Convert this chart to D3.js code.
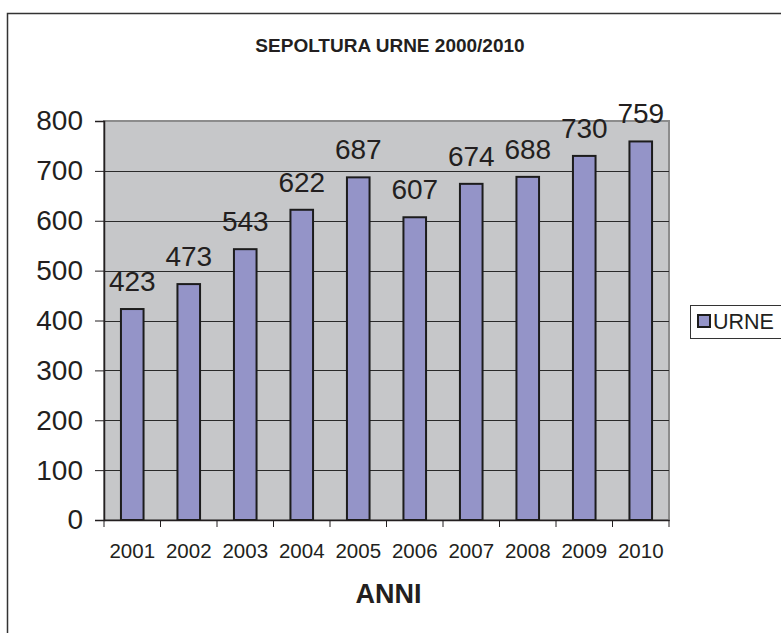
<!DOCTYPE html>
<html>
<head>
<meta charset="utf-8">
<script src="https://cdn.jsdelivr.net/npm/d3@7"></script>
<style>
  html, body { margin: 0; padding: 0; background: #fff; }
  svg { display: block; font-family: "Liberation Sans", Arial, sans-serif; }
</style>
</head>
<body>
<svg id="chart" width="781" height="633"></svg>
<script>
// Cinerary urn burials per year
const years = ["2001", "2002", "2003", "2004", "2005", "2006", "2007", "2008", "2009", "2010"];
const urne = [423, 473, 543, 622, 687, 607, 674, 688, 730, 759];
const yTicks = [0, 100, 200, 300, 400, 500, 600, 700, 800];
const seriesName = "URNE";
const titleText = "SEPOLTURA URNE 2000/2010";
const xTitle = "ANNI";

const svg = d3.select("#chart");
const W = 781, H = 633;
const plot = { left: 104, top: 121, right: 669, bottom: 520 };

// outer chart frame (continues past the right and bottom edges)
svg.append("path")
  .attr("d", `M7.5,${H + 5} V13.5 H${W + 5}`)
  .attr("fill", "none").attr("stroke", "#333").attr("stroke-width", 1.5);

const x = d3.scaleBand().domain(years).range([plot.left, plot.right]).paddingInner(0).paddingOuter(0);
const y = d3.scaleLinear().domain([0, 800]).range([plot.bottom, plot.top]);

// plot background
svg.append("rect")
  .attr("x", plot.left).attr("y", plot.top)
  .attr("width", plot.right - plot.left).attr("height", plot.bottom - plot.top)
  .attr("fill", "#c6c7c9").attr("stroke", "#8c8c8c").attr("stroke-width", 2);

// horizontal gridlines
svg.append("g").selectAll("line")
  .data(yTicks.filter(t => t > 0 && t < 800))
  .join("line")
  .attr("x1", plot.left).attr("x2", plot.right)
  .attr("y1", d => Math.round(y(d)) + 0.5).attr("y2", d => Math.round(y(d)) + 0.5)
  .attr("stroke", "#2a2a2a").attr("stroke-width", 1);

// bars
const barW = x.bandwidth() * 0.4;
svg.append("g").selectAll("rect")
  .data(urne)
  .join("rect")
  .attr("x", (d, i) => x(years[i]) + (x.bandwidth() - barW) / 2)
  .attr("y", d => y(d))
  .attr("width", barW)
  .attr("height", d => y(0) - y(d))
  .attr("fill", "#9494c8")
  .attr("stroke", "#1c1c1c").attr("stroke-width", 2);

// value labels
svg.append("g").selectAll("text")
  .data(urne)
  .join("text")
  .attr("x", (d, i) => x(years[i]) + x.bandwidth() / 2)
  .attr("y", d => y(d) - 18)
  .attr("text-anchor", "middle")
  .attr("font-size", 28)
  .attr("fill", "#231f20")
  .text(d => d);

// y axis
const yAxis = svg.append("g")
  .attr("transform", `translate(${plot.left},0)`)
  .call(d3.axisLeft(y).tickValues(yTicks).tickSize(9).tickPadding(12).tickFormat(d3.format("d")));
yAxis.select(".domain").attr("stroke", "#231f20").attr("stroke-width", 1.5);
yAxis.selectAll(".tick line").attr("stroke", "#231f20");
yAxis.selectAll("text").attr("font-size", 28).attr("fill", "#231f20").attr("font-family", "Liberation Sans, Arial, sans-serif");

// x axis: labels centred on categories, tick marks on category boundaries
const xAxis = svg.append("g")
  .attr("transform", `translate(0,${plot.bottom})`)
  .call(d3.axisBottom(x).tickSize(0).tickPadding(23));
xAxis.select(".domain").attr("stroke", "#231f20").attr("stroke-width", 1.5);
xAxis.selectAll("text").attr("font-size", 20.5).attr("fill", "#231f20").attr("font-family", "Liberation Sans, Arial, sans-serif");
xAxis.selectAll("line.bound")
  .data(years.map(d => x(d)).concat([x.range()[1]]))
  .join("line").attr("class", "bound")
  .attr("x1", d => d).attr("x2", d => d)
  .attr("y1", 0).attr("y2", 7)
  .attr("stroke", "#231f20");

// title
svg.append("text")
  .attr("x", 390).attr("y", 52)
  .attr("text-anchor", "middle")
  .attr("font-size", 19).attr("font-weight", "bold")
  .attr("fill", "#231f20")
  .text(titleText);

// x axis title
svg.append("text")
  .attr("x", (plot.left + plot.right) / 2 + 2).attr("y", 603)
  .attr("text-anchor", "middle")
  .attr("font-size", 27).attr("font-weight", "bold")
  .attr("fill", "#231f20")
  .text(xTitle);

// legend
const lg = svg.append("g").attr("transform", "translate(690,305)");
lg.append("rect").attr("x", 0.5).attr("y", 0.5).attr("width", 100).attr("height", 33)
  .attr("fill", "#fff").attr("stroke", "#333").attr("stroke-width", 1);
lg.append("rect").attr("x", 8).attr("y", 10).attr("width", 12).attr("height", 12)
  .attr("fill", "#9494c8").attr("stroke", "#1c1c1c").attr("stroke-width", 2);
lg.append("text").attr("x", 23).attr("y", 24)
  .attr("font-size", 21.5).attr("fill", "#231f20")
  .text(seriesName);
</script>
</body>
</html>
